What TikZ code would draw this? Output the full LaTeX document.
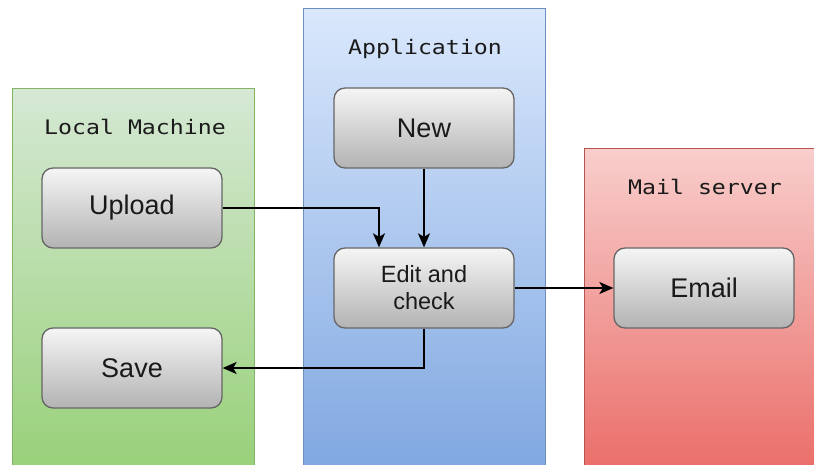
\documentclass[tikz,border=0pt]{standalone}
\usepackage{fontspec}
\setmainfont{Liberation Sans}
\newfontfamily\lanefont{DejaVu Sans Mono}
\usetikzlibrary{arrows.meta,calc}

\definecolor{greenline}{HTML}{82B366}
\definecolor{greentop}{HTML}{D5E8D4}
\definecolor{greenbot}{HTML}{97D077}
\definecolor{blueline}{HTML}{6C8EBF}
\definecolor{bluetop}{HTML}{DAE8FC}
\definecolor{bluebot}{HTML}{7EA6E0}
\definecolor{redline}{HTML}{B85450}
\definecolor{redtop}{HTML}{F8CECC}
\definecolor{redbot}{HTML}{EA6B66}
\definecolor{boxline}{HTML}{666666}
\definecolor{boxtop}{HTML}{F5F5F5}
\definecolor{boxbot}{HTML}{B3B3B3}
\definecolor{labeltext}{HTML}{1A1A1A}

\tikzset{
  lane/.style={draw=#1line, line width=1.3pt, top color=#1top, bottom color=#1bot,
    shading angle=0, anchor=north west, inner sep=0pt},
  lanetitle/.style={anchor=base, text=labeltext,
    font=\lanefont\fontsize{20}{24}\selectfont},
  procbox/.style={draw=boxline, line width=1.3pt, rounded corners=11pt,
    top color=boxtop, bottom color=boxbot, minimum width=180pt, minimum height=80pt,
    inner sep=0pt, align=center, text=labeltext,
    font=\fontsize{27}{28}\selectfont},
  smalltext/.style={font=\fontsize{23.5}{27}\selectfont},
  flow/.style={draw=black, line width=1.6pt,
    -{Stealth[length=14pt,width=12pt,inset=3.5pt]}},
}

\begin{document}
\begin{tikzpicture}[x=1pt,y=-1pt]
  \useasboundingbox (0,0) rectangle (814,465);
  \clip (0,0) rectangle (814,465);

  % swim lanes
  \node[lane=green, minimum width=242pt, minimum height=390pt] (local) at (12,88) {};
  \node[lane=blue,  minimum width=242pt, minimum height=470pt] (app)   at (303,8) {};
  \node[lane=red,   minimum width=240pt, minimum height=330pt] (mail)  at (584,148) {};

  % lane titles
  \node[lanetitle] (localtitle) at (135,135) {\scalebox{1.16}[1]{Local Machine}};
  \node[lanetitle] (apptitle)   at (425,55)  {\scalebox{1.16}[1]{Application}};
  \node[lanetitle] (mailtitle)  at (705,195) {\scalebox{1.16}[1]{Mail server}};

  % process steps
  \node[procbox] (upload) at (132,208) {Upload};
  \node[procbox] (save)   at (132,368) {Save};
  \node[procbox] (new)    at (424,128) {New};
  \node[procbox, smalltext] (edit) at (424,288) {Edit and\\check};
  \node[procbox] (email)  at (704,288) {Email};

  % connectors
  \coordinate (editin) at ($(edit.north)+(-45,0)$);
  \draw[flow] (upload.east) -| (editin);
  \draw[flow] (new.south) -- (edit.north);
  \draw[flow] (edit.east) -- (email.west);
  \draw[flow] (edit.south) |- (save.east);
\end{tikzpicture}
\end{document}
